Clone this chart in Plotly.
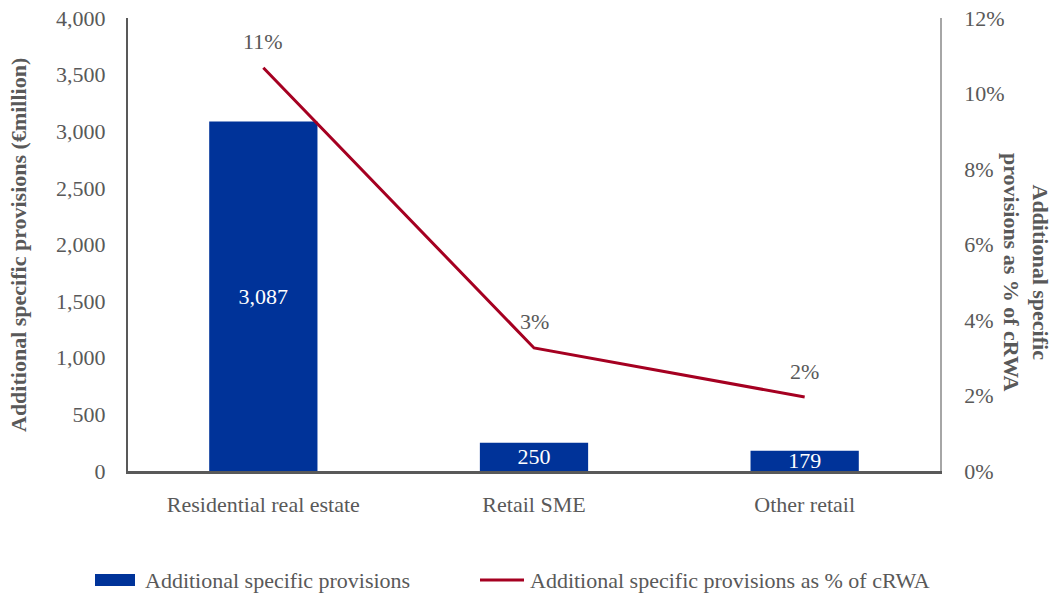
import plotly.graph_objects as go

# Data
categories = ["Residential real estate", "Retail SME", "Other retail"]
provisions_meur = [3087, 250, 179]
provisions_pct_crwa = [0.1068, 0.0326, 0.0196]

bar_name = "Additional specific provisions"
line_name = "Additional specific provisions as % of cRWA"
left_title = "Additional specific provisions (€million)"
right_title = "Additional specific<br>provisions as % of cRWA"

BLUE = "#003399"
RED = "#a50021"
GREY = "#595959"
FONT = "Liberation Serif, Times New Roman, serif"
FS = 22

W, H = 1053, 594
ML, MR, MT, MB = 128, 113, 18, 123
PW, PH = W - ML - MR, H - MT - MB


def px_x(px):
    return (px - ML) / PW


def px_y(py):
    return (H - MB - py) / PH


fig = go.Figure()

fig.add_trace(go.Bar(
    x=categories, y=provisions_meur, name=bar_name,
    marker=dict(color=BLUE, line=dict(width=0)),
    text=[f"{v:,}" for v in provisions_meur],
    textposition="inside", insidetextanchor="middle",
    constraintext="none", cliponaxis=False,
    textfont=dict(family=FONT, size=FS, color="white"),
    showlegend=False,
))

fig.add_trace(go.Scatter(
    x=categories, y=provisions_pct_crwa, name=line_name, yaxis="y2",
    mode="lines", line=dict(color=RED, width=3),
    showlegend=False,
))

annotations = []
for c, v in zip(categories, provisions_pct_crwa):
    annotations.append(dict(
        x=c, y=v, xref="x", yref="y2", text=f"{v:.0%}",
        showarrow=False, yshift=26,
        font=dict(family=FONT, size=FS, color=GREY),
    ))

# Axis titles
annotations.append(dict(
    x=px_x(18), y=px_y(245), xref="paper", yref="paper",
    text=f"<b>{left_title}</b>", textangle=-90, showarrow=False,
    xanchor="center", yanchor="middle",
    font=dict(family=FONT, size=FS, color=GREY),
))
annotations.append(dict(
    x=px_x(1026), y=px_y(272), xref="paper", yref="paper",
    text=f"<b>{right_title}</b>", textangle=90, showarrow=False,
    xanchor="center", yanchor="middle",
    font=dict(family=FONT, size=FS, color=GREY),
))

# Legend entries
annotations.append(dict(
    x=px_x(143), y=px_y(580), xref="paper", yref="paper",
    text=bar_name, showarrow=False, xanchor="left", yanchor="middle",
    font=dict(family=FONT, size=FS, color=GREY),
))
annotations.append(dict(
    x=px_x(528), y=px_y(580), xref="paper", yref="paper",
    text=line_name, showarrow=False, xanchor="left", yanchor="middle",
    font=dict(family=FONT, size=FS, color=GREY),
))

shapes = [
    dict(type="rect", xref="paper", yref="paper",
         x0=px_x(95), x1=px_x(135), y0=px_y(586), y1=px_y(574),
         fillcolor=BLUE, line=dict(width=0)),
    dict(type="line", xref="paper", yref="paper",
         x0=px_x(480), x1=px_x(524), y0=px_y(580), y1=px_y(580),
         line=dict(color=RED, width=3)),
]

fig.update_layout(
    width=W, height=H,
    margin=dict(l=ML, r=MR, t=MT, b=MB, autoexpand=False),
    paper_bgcolor="white", plot_bgcolor="white",
    font=dict(family=FONT, size=FS, color=GREY),
    bargap=0.6,
    showlegend=False,
    annotations=annotations,
    shapes=shapes,
    xaxis=dict(
        showgrid=False, showline=True, linecolor=GREY, linewidth=2.5,
        ticks="", ticklabelstandoff=12, zeroline=False, automargin=False,
        tickfont=dict(family=FONT, size=FS, color=GREY),
    ),
    yaxis=dict(
        range=[0, 4000], dtick=500, tickformat=",",
        showgrid=False, showline=True, linecolor=GREY, linewidth=2,
        ticks="", ticklabelstandoff=16, zeroline=False, automargin=False,
        tickfont=dict(family=FONT, size=FS, color=GREY),
    ),
    yaxis2=dict(
        range=[0, 0.12], dtick=0.02, tickformat=".0%",
        overlaying="y", side="right",
        showgrid=False, showline=True, linecolor="#a6a6a6", linewidth=1.5,
        ticks="", ticklabelstandoff=18, zeroline=False, automargin=False,
        tickfont=dict(family=FONT, size=FS, color=GREY),
    ),
)

fig.write_html("out.html")
